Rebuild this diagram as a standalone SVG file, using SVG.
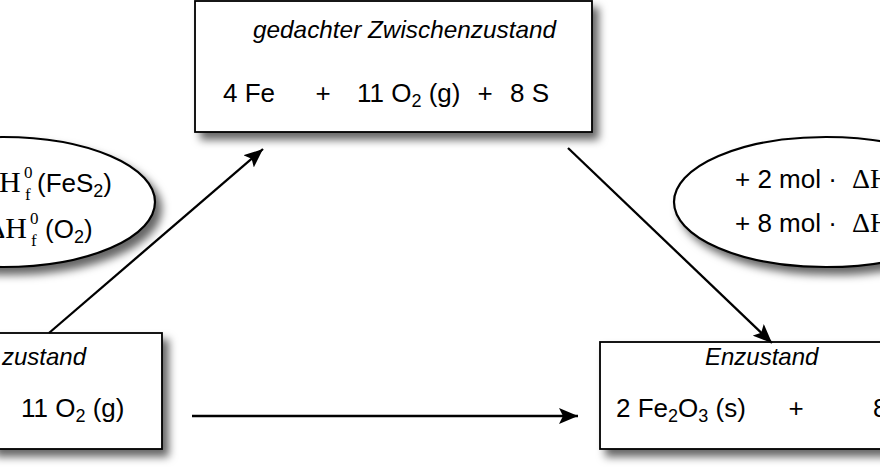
<svg xmlns="http://www.w3.org/2000/svg" width="880" height="471" viewBox="0 0 880 471">
<defs>
<filter id="sh" x="-20%" y="-20%" width="150%" height="150%">
<feDropShadow dx="6" dy="7" stdDeviation="4" flood-color="#000" flood-opacity="0.6"/>
</filter>
<marker id="ah" markerUnits="userSpaceOnUse" markerWidth="20" markerHeight="16" refX="19" refY="8" orient="auto">
<path d="M0,0 L19,8 L0,16 L4,8 Z" fill="#000"/>
</marker>
<style>
.box{fill:#fff;stroke:#000;stroke-width:1.8;filter:url(#sh)}
.ell{fill:#fff;stroke:#000;stroke-width:2.2;filter:url(#sh)}
.t{font-family:"Liberation Sans",Arial,sans-serif;font-size:26px;fill:#000}
.h{font-family:"Liberation Sans",Arial,sans-serif;font-size:24px;font-style:italic;fill:#000}
.s{font-family:"Liberation Serif","Times New Roman",serif;fill:#000}
.sub{font-size:18px}
.con{stroke:#000;stroke-width:2.3;fill:none;marker-end:url(#ah)}
</style>
</defs>
<rect width="880" height="471" fill="#fff"/>

<g id="ellipse-left">
<ellipse class="ell" cx="3" cy="202" rx="152" ry="65"/>
<text class="s" x="-1" y="192" font-size="30">H</text>
<text class="s" x="24" y="178" font-size="17">0</text>
<text class="s" x="25" y="200" font-size="17">f</text>
<text class="t" x="37" y="192" font-size="27">(FeS<tspan class="sub" dy="5">2</tspan><tspan dy="-5">)</tspan></text>
<text class="s" x="-14" y="238" font-size="30">ΔH</text>
<text class="s" x="30" y="224" font-size="17">0</text>
<text class="s" x="31" y="246" font-size="17">f</text>
<text class="t" x="45" y="238" font-size="27">(O<tspan class="sub" dy="5">2</tspan><tspan dy="-5">)</tspan></text>
</g>

<g id="ellipse-right">
<ellipse class="ell" cx="826" cy="202" rx="152" ry="65"/>
<text class="t" x="735" y="188">+ 2 mol ·</text>
<text class="s" x="852" y="188" font-size="28">ΔH</text>
<text class="t" x="735" y="232">+ 8 mol ·</text>
<text class="s" x="852" y="232" font-size="28">ΔH</text>
</g>

<g id="box-top">
<rect class="box" x="195" y="1" width="397" height="131"/>
<text class="h" x="253" y="38" font-size="21" textLength="303" lengthAdjust="spacingAndGlyphs">gedachter Zwischenzustand</text>
<text class="t" x="223" y="102">4 Fe</text>
<text class="t" x="323" y="102" text-anchor="middle">+</text>
<text class="t" x="357" y="102">11 O<tspan class="sub" dy="5">2</tspan><tspan dy="-5"> (g)</tspan></text>
<text class="t" x="485" y="102" text-anchor="middle">+</text>
<text class="t" x="510" y="102">8 S</text>
</g>

<g id="box-left">
<rect class="box" x="-10" y="333" width="172" height="116"/>
<text class="h" x="86" y="365" text-anchor="end">zustand</text>
<text class="t" x="21" y="417" font-size="27">11 O<tspan class="sub" dy="5">2</tspan><tspan dy="-5"> (g)</tspan></text>
</g>

<g id="box-right">
<rect class="box" x="600" y="342" width="290" height="107"/>
<text class="h" x="705" y="365">Enzustand</text>
<text class="t" x="616" y="417" font-size="27">2 Fe<tspan class="sub" dy="5">2</tspan><tspan dy="-5">O</tspan><tspan class="sub" dy="5">3</tspan><tspan dy="-5"> (s)</tspan></text>
<text class="t" x="796" y="417" text-anchor="middle" font-size="27">+</text>
<text class="t" x="873" y="417" font-size="27">8</text>
</g>

<g id="connectors">
<line class="con" x1="49" y1="333" x2="263" y2="149"/>
<line class="con" x1="568" y1="148" x2="772" y2="343"/>
<line class="con" x1="192" y1="416" x2="578" y2="416"/>
</g>
</svg>
